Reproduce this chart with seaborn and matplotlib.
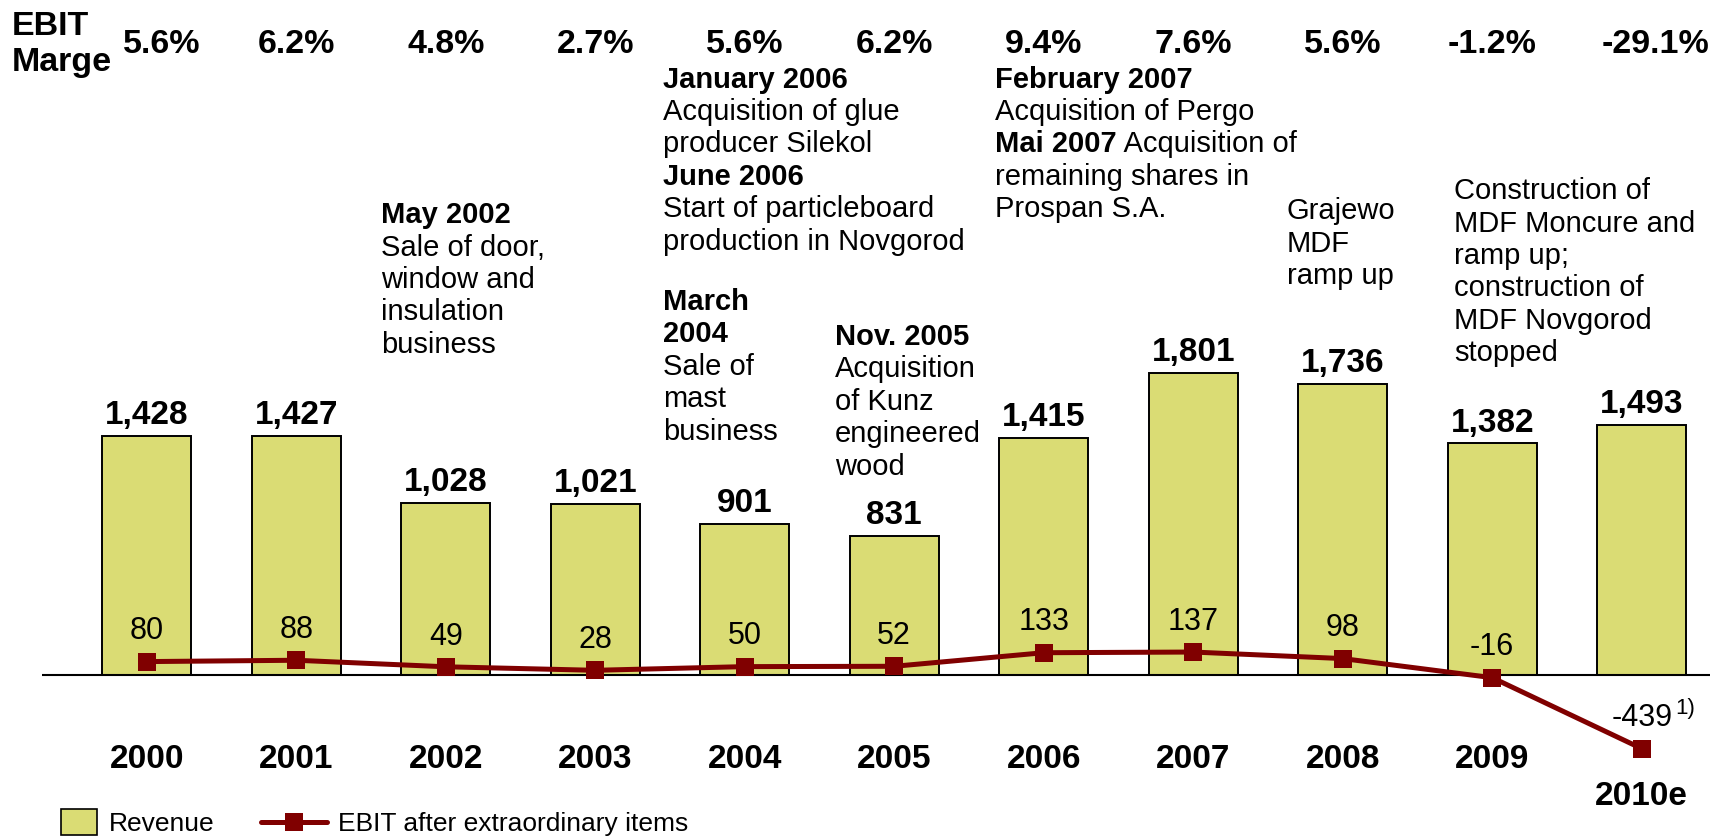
import numpy as np
import pandas as pd
import matplotlib
matplotlib.use("Agg")
import matplotlib.pyplot as plt
import matplotlib.patches as mpatches
import matplotlib.transforms as mtransforms
from matplotlib.lines import Line2D
from matplotlib.legend_handler import HandlerPatch
import seaborn as sns

# ---- data -------------------------------------------------------------
years = ["2000", "2001", "2002", "2003", "2004", "2005",
         "2006", "2007", "2008", "2009", "2010e"]
revenue = [1428, 1427, 1028, 1021, 901, 831, 1415, 1801, 1736, 1382, 1493]
ebit = [80, 88, 49, 28, 50, 52, 133, 137, 98, -16, -439]
ebit_margin = ["5.6%", "6.2%", "4.8%", "2.7%", "5.6%", "6.2%",
               "9.4%", "7.6%", "5.6%", "-1.2%", "-29.1%"]

events_2002 = [("May 2002", True), ("Sale of door,", False), ("window and", False),
               ("insulation", False), ("business", False)]
events_2004 = [("March", True), ("2004", True), ("Sale of", False),
               ("mast", False), ("business", False)]
events_2005 = [("Nov. 2005", True), ("Acquisition", False), ("of Kunz", False),
               ("engineered", False), ("wood", False)]
events_2006 = [("January 2006", True), ("Acquisition of glue", False),
               ("producer Silekol", False), ("June 2006", True),
               ("Start of particleboard", False), ("production in Novgorod", False)]
events_2007 = [("February 2007", True), ("Acquisition of Pergo", False),
               (("Mai 2007", " Acquisition of"), None),
               ("remaining shares in", False), ("Prospan S.A.", False)]
events_2008 = [("Grajewo", False), ("MDF", False), ("ramp up", False)]
events_2009 = [("Construction of", False), ("MDF Moncure and", False),
               ("ramp up;", False), ("construction of", False),
               ("MDF Novgorod", False), ("stopped", False)]

# ---- style ------------------------------------------------------------
BAR_COLOR = "#DADC74"
LINE_COLOR = "#800000"
W, H, DPI = 1731, 836, 100

sns.set_theme(style="white")
plt.rcParams["font.family"] = ["Liberation Sans", "DejaVu Sans"]
plt.rcParams["text.color"] = "black"

fig = plt.figure(figsize=(W / DPI, H / DPI), dpi=DPI)
ax = fig.add_axes([0, 0, 1, 1])

# pixel geometry of the plotting area
X0_PX, STEP_PX = 146.7, 149.5      # centre of first bar, spacing between bars
BASE_PX, PX_PER_UNIT = 675.0, 0.1676

def fx(px):
    return px / W

def fy(py):
    return 1 - py / H

df = pd.DataFrame({"year": years, "revenue": revenue, "ebit": ebit})

sns.barplot(data=df, x="year", y="revenue", color=BAR_COLOR, saturation=1,
            edgecolor="black", linewidth=1.4, width=0.595, ax=ax, zorder=2)
sns.lineplot(x=np.arange(len(years)), y=ebit, color=LINE_COLOR, linewidth=3.6,
             marker="s", markersize=13.5, markeredgecolor=LINE_COLOR,
             markeredgewidth=0, ax=ax, zorder=4)

ax.set_xlim(-X0_PX / STEP_PX, (W - X0_PX) / STEP_PX)
ax.set_ylim(-(H - BASE_PX) / PX_PER_UNIT, BASE_PX / PX_PER_UNIT)
ax.set_axis_off()

# zero line
ax.hlines(0, (42 - X0_PX) / STEP_PX, (1710 - X0_PX) / STEP_PX,
          color="black", linewidth=1.5, zorder=3)

# revenue labels
for i, v in enumerate(revenue):
    ax.annotate(f"{v:,}", (i, v), xytext=(0, 8.5), textcoords="offset points",
                ha="center", va="baseline", fontsize=24, fontweight="bold")

# EBIT labels
ebit_texts = []
for i, v in enumerate(ebit):
    t = ax.annotate(f"{v}", (i, v), xytext=(0, 16), textcoords="offset points",
                    ha="center", va="baseline", fontsize=22)
    ebit_texts.append(t)

# year labels and EBIT margins (x in data, y in figure)
blend = mtransforms.blended_transform_factory(ax.transData, fig.transFigure)
for i, y in enumerate(years):
    ypx = 805 if y.endswith("e") else 768
    ax.text(i, fy(ypx), y, transform=blend, ha="center", va="baseline",
            fontsize=24, fontweight="bold")

margin_nudge = {0: 0.1, 10: 0.09}
for i, m in enumerate(ebit_margin):
    ax.text(i + margin_nudge.get(i, 0), fy(53), m, transform=blend,
            ha="center", va="baseline", fontsize=24.5, fontweight="bold")

fig.text(fx(12), fy(35), "EBIT", ha="left", va="baseline",
         fontsize=24.5, fontweight="bold")
fig.text(fx(12), fy(71), "Marge", ha="left", va="baseline",
         fontsize=24.5, fontweight="bold")

# event annotations
fig.canvas.draw()
renderer = fig.canvas.get_renderer()

LINE_STEP = 32.4
def event_block(x_px, y_px, lines, size=21):
    for k, (txt, bold) in enumerate(lines):
        yy = fy(y_px + k * LINE_STEP)
        if bold is None:
            head, tail = txt
            t = fig.text(fx(x_px), yy, head, ha="left", va="baseline",
                         fontsize=size, fontweight="bold")
            bb = t.get_window_extent(renderer)
            fig.text(bb.x1 / W, yy, tail, ha="left", va="baseline",
                     fontsize=size)
        else:
            fig.text(fx(x_px), yy, txt, ha="left", va="baseline",
                     fontsize=size, fontweight="bold" if bold else "normal")

event_block(381.5, 223.3, events_2002)
event_block(662.7, 310.0, events_2004)
event_block(835.0, 345.0, events_2005)
event_block(663.0, 87.5, events_2006)
event_block(995.0, 87.5, events_2007)
event_block(1286.7, 219.3, events_2008)
event_block(1454.0, 199.3, events_2009)

# footnote marker on the 2010 estimate
bb = ebit_texts[-1].get_window_extent(renderer)
fig.text((bb.x1 + 3) / W, (bb.y0 + 19) / H, "1)", ha="left", va="baseline",
         fontsize=16)

# legend
def make_box(legend, orig_handle, xdescent, ydescent, width, height, fontsize):
    bw, bh = 26, 19
    return mpatches.Rectangle((width - bw - xdescent, height / 2 - bh / 2 - ydescent),
                              bw, bh)

handles = [
    mpatches.Patch(facecolor=BAR_COLOR, edgecolor="black", linewidth=1.2),
    Line2D([0], [0], color=LINE_COLOR, linewidth=3.6, marker="s",
           markersize=13.5, markeredgewidth=0),
]
fig.legend(handles, ["Revenue", "EBIT after extraordinary items"],
           loc="center left", bbox_to_anchor=(fx(31), fy(824)), ncol=2,
           frameon=False, fontsize=19, borderpad=0, borderaxespad=0,
           handlelength=2.5, handletextpad=0.45, columnspacing=1.75,
           handler_map={mpatches.Patch: HandlerPatch(patch_func=make_box)})

fig.savefig("out.png", dpi=DPI, facecolor="white")
